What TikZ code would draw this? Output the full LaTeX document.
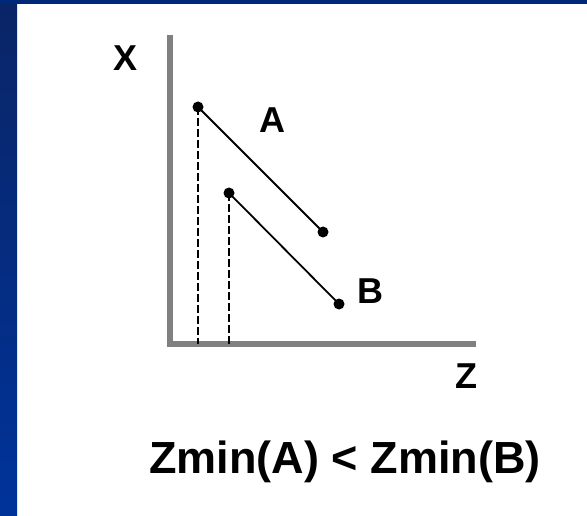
\documentclass[tikz,border=0pt]{standalone}
\usepackage{fontspec}
\setmainfont{Liberation Sans}
\usetikzlibrary{positioning}
\definecolor{navytop}{HTML}{0A2566}
\definecolor{navybot}{HTML}{00339A}
\definecolor{navyband}{HTML}{002879}
\definecolor{axisgray}{HTML}{808080}
\begin{document}
\begin{tikzpicture}[
  x=1pt,y=-1pt,
  axis/.style={draw=axisgray,line width=6pt,line join=miter},
  dot/.style={circle,fill=black,inner sep=0pt,minimum size=11pt},
  seg/.style={black,line width=1.8pt},
  guide/.style={black,line width=1.4pt,dash pattern=on 8pt off 3pt},
  lbl/.style={anchor=base,font=\fontsize{36}{40}\selectfont\bfseries},
  every node/.style={inner sep=0pt},
]
  \useasboundingbox (0,0) rectangle (587,516);

  % Frame
  \fill[white] (0,0) rectangle (587,516);
  \shade[top color=navytop,bottom color=navybot] (0,0) rectangle (17,516);
  \fill[navyband] (0,0) rectangle (587,4);

  % Axes
  \coordinate (top) at (170,35);
  \coordinate (o) at (170,344);
  \coordinate (right) at (476,344);
  \draw[axis] (top) -- (o) -- (right);

  % End points
  \node[dot] (a1) at (198,107) {};
  \node[dot] (a2) at (323,232) {};
  \node[dot] (b1) at (229,193) {};
  \node[dot] (b2) at (339,304) {};

  % Segments
  \draw[seg] (a1.center) -- (a2.center);
  \draw[seg] (b1.center) -- (b2.center);

  % Drop lines
  \draw[guide] (a1.center) -- (a1 |- o);
  \draw[guide] (b1.center) -- (b1 |- o);

  % Labels
  \node[lbl] (xlabel) at (126,71) {X};
  \node[lbl] (alabel) at (272,133) {A};
  \node[lbl] (blabel) at (370,303) {B};
  \node[lbl] (zlabel) at (466,388) {Z};

  % Caption
  \node[anchor=base,font=\fontsize{45}{50}\selectfont\bfseries] (caption) at (345,473) {Zmin(A) < Zmin(B)};
\end{tikzpicture}
\end{document}
